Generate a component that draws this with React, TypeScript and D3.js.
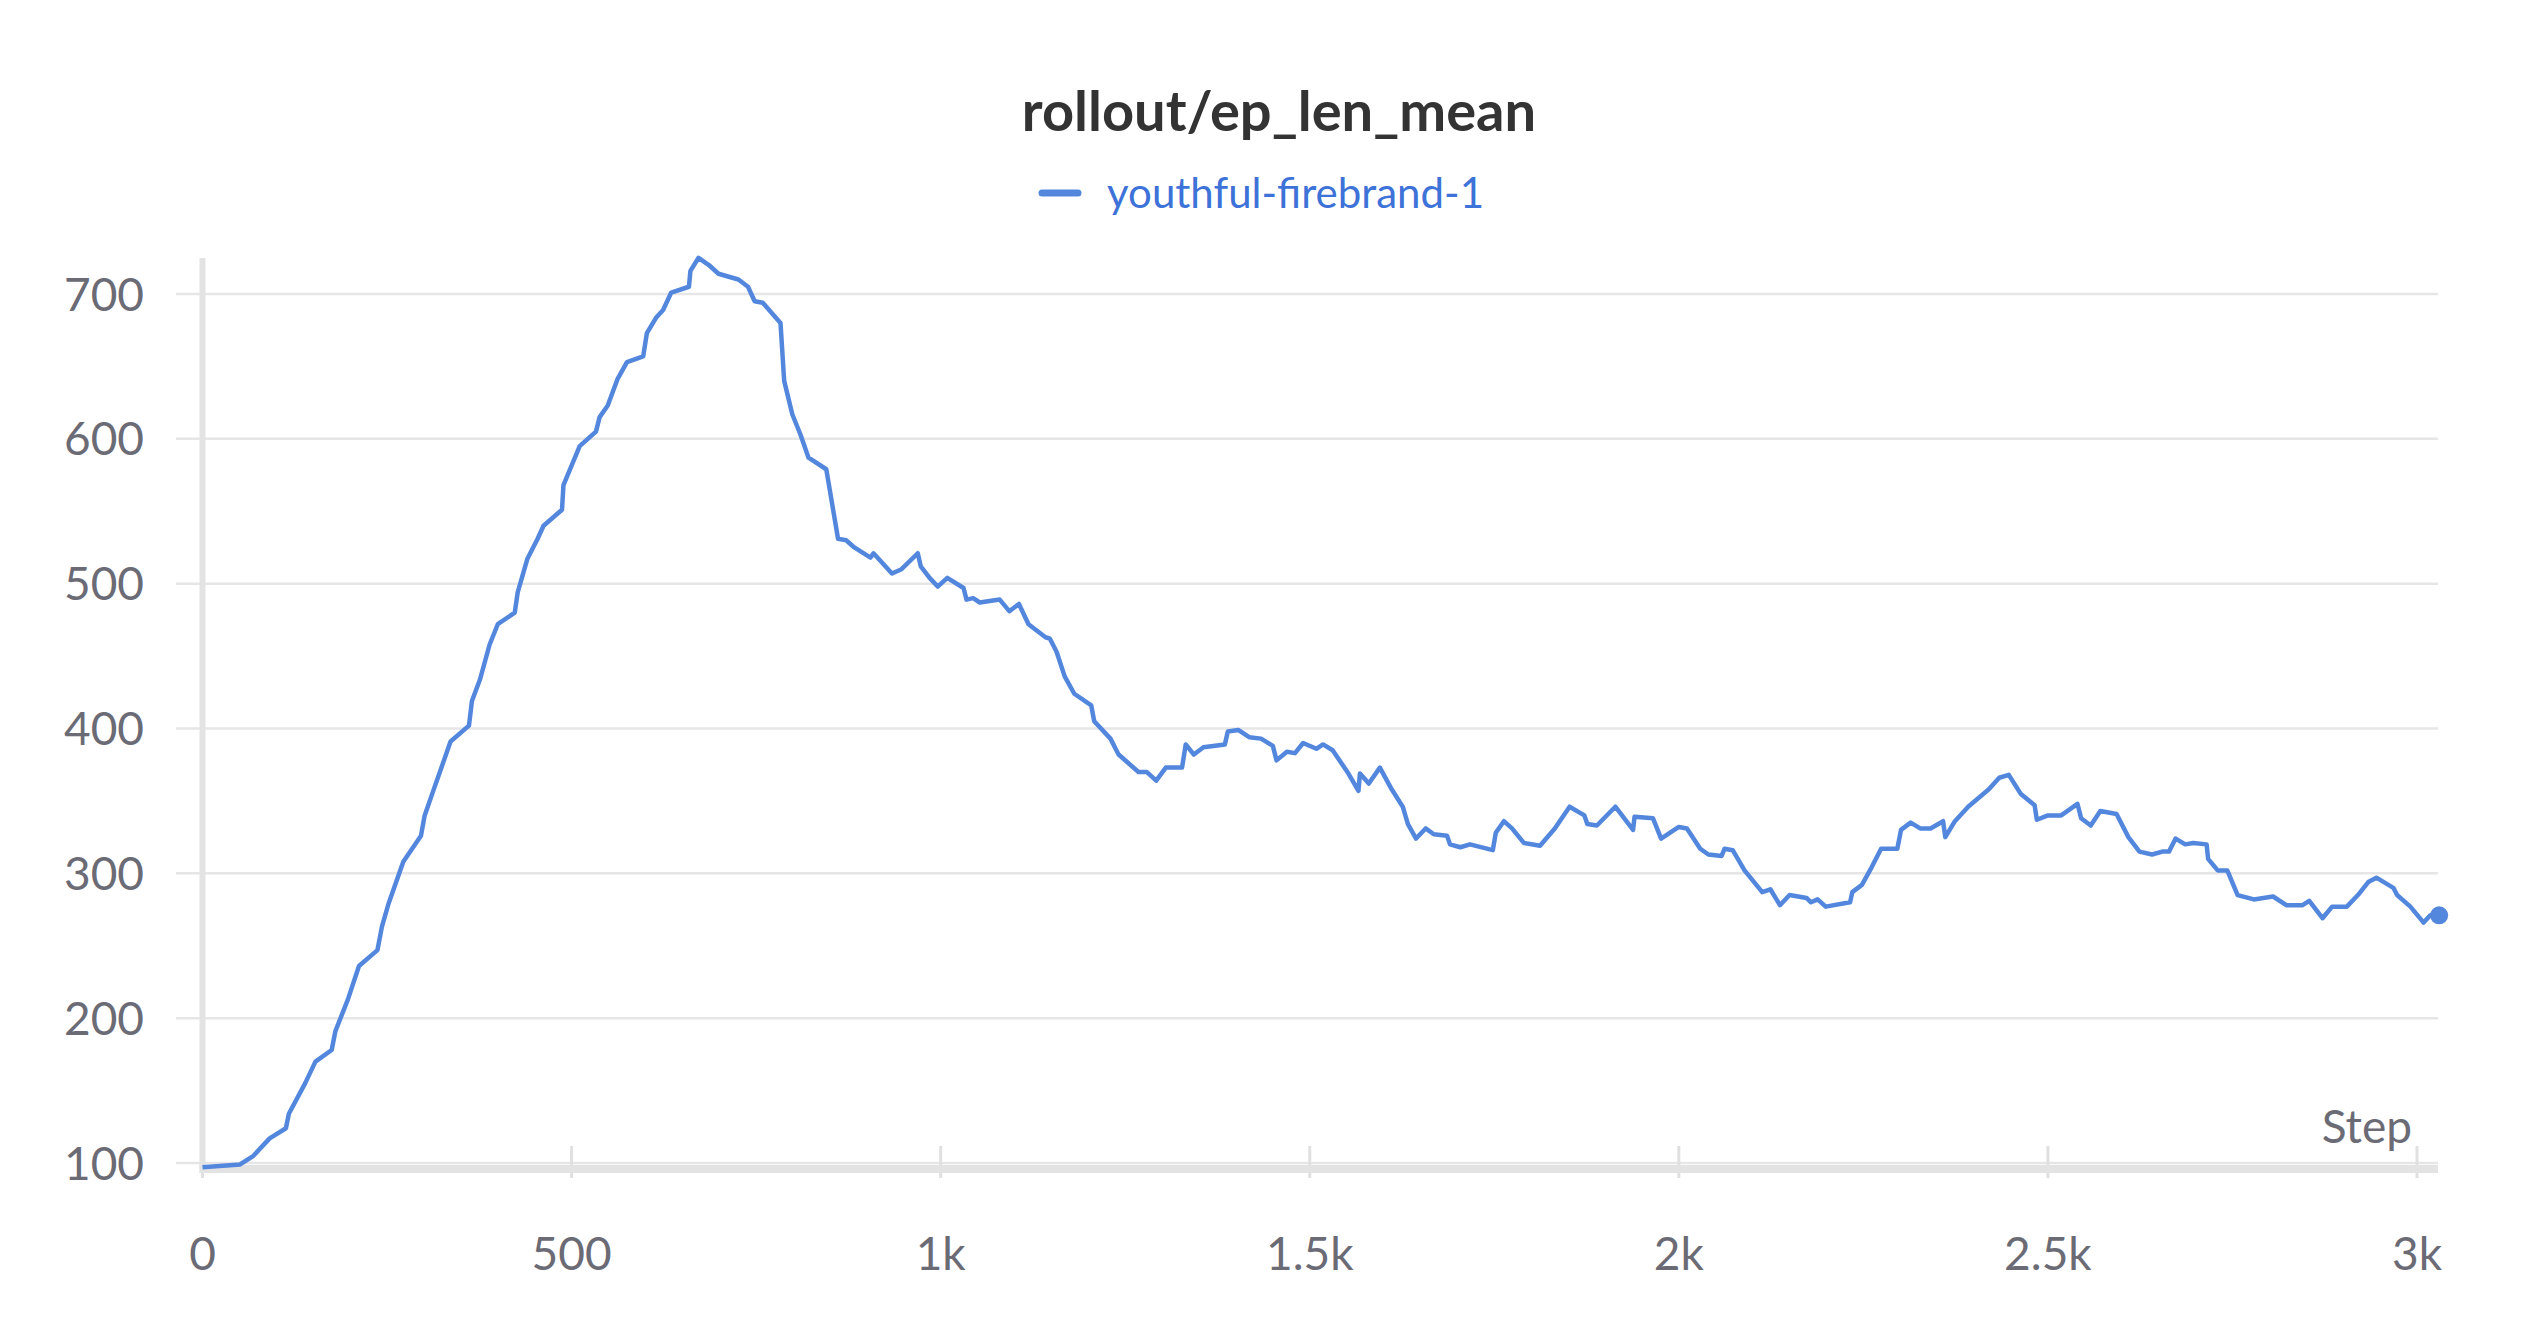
import React from "react";
import * as d3 from "d3";

const steps = [0,51,69,91,113,117,139,153,175,180,197,212,237,243,252,272,296,301,314,323,336,361,365,376,389,400,423,427,440,454,462,487,489,511,533,538,549,562,575,597,602,615,624,635,659,661,672,686,699,726,739,748,759,783,788,799,810,821,845,850,861,872,883,905,909,934,947,969,973,985,996,1009,1031,1035,1044,1053,1080,1093,1106,1119,1142,1148,1157,1168,1181,1204,1208,1230,1241,1268,1279,1292,1305,1327,1332,1343,1356,1385,1389,1403,1418,1434,1450,1455,1469,1480,1491,1509,1518,1531,1551,1566,1568,1580,1595,1611,1626,1633,1644,1657,1668,1686,1690,1704,1717,1748,1752,1763,1774,1790,1812,1832,1852,1872,1876,1889,1914,1938,1940,1965,1976,2000,2011,2029,2040,2058,2062,2073,2089,2113,2124,2137,2150,2173,2179,2188,2199,2232,2235,2248,2261,2274,2296,2301,2314,2327,2341,2358,2361,2374,2392,2420,2434,2447,2463,2482,2485,2500,2518,2540,2545,2558,2571,2593,2609,2624,2641,2655,2664,2673,2686,2697,2715,2717,2730,2743,2757,2779,2805,2823,2845,2854,2872,2885,2905,2920,2934,2945,2968,2973,2991,3009,3018,3030];
const epLenMean = [97,99,105,117,124,134,155,170,178,191,213,236,247,263,279,308,326,340,359,372,391,402,419,434,458,472,480,494,517,531,540,551,568,595,605,615,623,641,653,657,673,684,689,701,705,716,725,720,714,710,705,695,694,680,640,617,603,587,579,564,531,530,525,518,521,507,510,521,512,504,498,504,497,489,490,487,489,481,486,472,463,462,453,436,424,416,405,393,382,370,370,364,373,373,389,382,387,389,398,399,394,393,388,378,384,383,390,386,389,385,370,357,369,362,373,358,346,334,324,331,327,326,320,318,320,316,328,336,331,321,319,331,346,340,334,333,346,330,339,338,324,332,331,317,313,312,317,316,302,287,289,278,285,283,280,282,277,280,287,292,304,317,317,330,335,331,331,336,325,336,346,358,366,368,355,347,337,340,340,348,338,333,343,341,325,315,313,315,315,324,320,321,320,310,302,302,285,282,284,278,278,281,269,277,277,285,294,297,290,285,277,266,271,271];
const xTicks = [0,500,1000,1500,2000,2500,3000];
const xTickLabels = ["0","500","1k","1.5k","2k","2.5k","3k"];
const yTicks = [100,200,300,400,500,600,700];
const title = "rollout/ep_len_mean";
const seriesName = "youthful-firebrand-1";

export default function App() {
  const W = 2528, H = 1328;
  const left = 202.5, right = 2438, top = 258, bottom = 1169;
  const x = d3.scaleLinear().domain([0, 3000]).range([left, 2417]);
  const y = d3.scaleLinear().domain([100, 700]).range([1163, 294]);
  const data = steps.map((s, i) => [s, epLenMean[i]] as [number, number]);
  const line = d3.line<[number, number]>().x(d => x(d[0])).y(d => y(d[1]));
  const last = data[data.length - 1];
  const font = "Lato, 'Noto Sans', sans-serif";
  const tickColor = "#6b6b76";
  const blue = "#5387dd";
  return (
    <svg width={W} height={H} style={{ position: "absolute", left: 0, top: 0, background: "#fff" }}>
      <text x={1279} y={131} textAnchor="middle" fontFamily={font} fontWeight={700} fontSize={56} fill="#333">{title}</text>
      <line x1={1042} x2={1078} y1={193} y2={193} stroke={blue} strokeWidth={7} strokeLinecap="round" />
      <text x={1107} y={208} fontFamily={font} fontSize={42} fill="#3d72d8">{seriesName}</text>
      {yTicks.map(t => (
        <g key={t}>
          <line x1={176} x2={right} y1={y(t)} y2={y(t)} stroke="#e6e6e6" strokeWidth={2.5} />
          <text x={144} y={y(t)} dy="0.36em" textAnchor="end" fontFamily={font} fontSize={46} fill={tickColor}>{t}</text>
        </g>
      ))}
      {xTicks.map((t, i) => (
        <g key={t}>
          <line x1={x(t)} x2={x(t)} y1={1146} y2={1178} stroke="#e0e0e0" strokeWidth={3} />
          <text x={x(t)} y={1270} textAnchor="middle" fontFamily={font} fontSize={46} fill={tickColor}>{xTickLabels[i]}</text>
        </g>
      ))}
      <line x1={left} x2={left} y1={top} y2={bottom + 4} stroke="#e3e3e3" strokeWidth={6} />
      <line x1={left - 3} x2={right} y1={bottom} y2={bottom} stroke="#e3e3e3" strokeWidth={8} />
      <text x={2412} y={1143} textAnchor="end" fontFamily={font} fontSize={46} fill={tickColor}>Step</text>
      <path d={line(data) || ""} fill="none" stroke={blue} strokeWidth={4.5} strokeLinejoin="round" />
      <circle cx={x(last[0])} cy={y(last[1])} r={9} fill={blue} />
    </svg>
  );
}
